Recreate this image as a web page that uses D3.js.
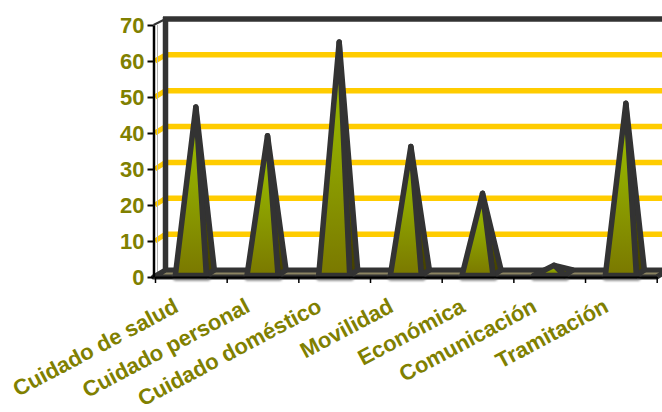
<!DOCTYPE html>
<html>
<head>
<meta charset="utf-8">
<script src="https://cdn.jsdelivr.net/npm/d3@7"></script>
<style>
  html, body { margin: 0; padding: 0; background: #ffffff; }
  svg { display: block; }
  text { font-family: "Liberation Sans", Arial, sans-serif; font-weight: bold; }
</style>
</head>
<body>
<svg id="chart" width="662" height="412"></svg>
<script>
// ---- data ----
const categories = ["Cuidado de salud", "Cuidado personal", "Cuidado doméstico", "Movilidad", "Económica", "Comunicación", "Tramitación"];
const values = [46, 38, 64, 35, 22, 2, 47];
const yTicks = [0, 10, 20, 30, 40, 50, 60, 70];
const gridValues = [10, 20, 30, 40, 50, 60];

const W = 662, H = 412;
const svg = d3.select("#chart");

// ---- scales ----
const x = d3.scaleBand().domain(categories).range([155, 656.7]).paddingInner(0).paddingOuter(0);
const xEdge = d3.scaleLinear().domain([0, categories.length]).range([155, 656.7]);
const yFront = d3.scaleLinear().domain([0, 70]).range([277, 25]);
const yBack = d3.scaleLinear().domain([0, 70]).range([270, 19]);
const yMid = d3.scaleLinear().domain([0, 70]).range([272.5, 20.5]);
const backX = 165.5;

const defs = svg.append("defs");
const gf = defs.append("linearGradient").attr("id", "frontGrad").attr("x1", 0).attr("y1", 0).attr("x2", 0).attr("y2", 1);
gf.append("stop").attr("offset", "0%").attr("stop-color", "#a0c400");
gf.append("stop").attr("offset", "45%").attr("stop-color", "#8fa600");
gf.append("stop").attr("offset", "100%").attr("stop-color", "#7a7800");
const gs = defs.append("linearGradient").attr("id", "sideGrad").attr("x1", 0).attr("y1", 0).attr("x2", 0).attr("y2", 1);
gs.append("stop").attr("offset", "0%").attr("stop-color", "#5a6a00");
gs.append("stop").attr("offset", "100%").attr("stop-color", "#454000");
const blur = defs.append("filter").attr("id", "soft").attr("x", "-20%").attr("y", "-50%").attr("width", "140%").attr("height", "200%");
blur.append("feGaussianBlur").attr("stdDeviation", 1);

// ---- walls / gridlines ----
const grid = svg.append("g");
grid.selectAll("line.back").data(gridValues).join("line")
  .attr("x1", backX).attr("x2", W + 10)
  .attr("y1", d => yBack(d)).attr("y2", d => yBack(d))
  .attr("stroke", "#ffcc00").attr("stroke-width", 5.5);
grid.selectAll("line.side").data(gridValues).join("line")
  .attr("x1", 155).attr("x2", backX)
  .attr("y1", d => yFront(d)).attr("y2", d => yBack(d))
  .attr("stroke", "#ffcc00").attr("stroke-width", 5);

// thin side wall edge
svg.append("line").attr("x1", 157.5).attr("x2", 157.5)
  .attr("y1", yFront(70)).attr("y2", yFront(0))
  .attr("stroke", "#b0b0b0").attr("stroke-width", 1);

// back-left post and top edge
svg.append("line").attr("x1", backX).attr("x2", backX)
  .attr("y1", yBack(70) - 2).attr("y2", yBack(0))
  .attr("stroke", "#333333").attr("stroke-width", 5.5);
svg.append("line").attr("x1", backX - 2.5).attr("x2", W + 10)
  .attr("y1", yBack(70)).attr("y2", yBack(70))
  .attr("stroke", "#333333").attr("stroke-width", 5.5);
svg.append("line").attr("x1", 153.5).attr("x2", backX)
  .attr("y1", yFront(70)).attr("y2", yBack(70))
  .attr("stroke", "#333333").attr("stroke-width", 2);

// floor
const floorPts = [[153.5, yFront(0)], [656.7, yFront(0)], [656.7 + 11.5, yBack(0)], [backX, yBack(0)]];
svg.append("path").attr("d", d3.line()(floorPts) + "Z")
  .attr("fill", "#8c8462").attr("stroke", "#333333").attr("stroke-width", 5).attr("stroke-linejoin", "round");

// shadows under the pyramids
svg.append("g").selectAll("rect").data(categories).join("rect")
  .attr("x", d => x(d) + x.bandwidth() / 2 - 18)
  .attr("y", yFront(0) - 3)
  .attr("width", 38).attr("height", 7).attr("rx", 3.5)
  .attr("fill", "#7a7a7a").attr("opacity", 0.8).attr("filter", "url(#soft)");

// ---- pyramids ----
const pyr = svg.append("g");
const half = 15.5;
const baseY = yFront(0) - 1.5;
categories.forEach((c, i) => {
  const cx = x(c) + x.bandwidth() / 2;
  const v = values[i];
  const apex = [cx + 5, yMid(v)];
  const fl = [cx - half, baseY];
  const fr = [cx + half, baseY];
  const br = [cx + half + 8, baseY - 5.5];
  const g = pyr.append("g");
  g.append("path").attr("d", d3.line()([fr, br, apex]) + "Z")
    .attr("fill", "url(#sideGrad)").attr("stroke", "#333333").attr("stroke-width", 5.5).attr("stroke-linejoin", "round");
  g.append("path").attr("d", d3.line()([fl, fr, apex]) + "Z")
    .attr("fill", "url(#frontGrad)").attr("stroke", "#333333").attr("stroke-width", 5.5).attr("stroke-linejoin", "round");
});

// ---- axes ----
const xAxis = svg.append("g").attr("transform", `translate(0,${yFront(0)})`)
  .call(d3.axisBottom(xEdge).tickValues(d3.range(categories.length + 1)).tickFormat("").tickSizeInner(6).tickSizeOuter(0));
xAxis.select(".domain").attr("stroke", "#000").attr("stroke-width", 2);
xAxis.selectAll(".tick line").attr("stroke", "#000").attr("stroke-width", 1.5);

const yAxis = svg.append("g").attr("transform", "translate(153.5,0)")
  .call(d3.axisLeft(yFront).tickValues(yTicks).tickSizeInner(6).tickSizeOuter(0).tickPadding(3));
yAxis.select(".domain").attr("stroke", "#000").attr("stroke-width", 2.5);
yAxis.selectAll(".tick line").attr("stroke", "#000").attr("stroke-width", 2);
yAxis.selectAll(".tick text")
  .attr("fill", "#808000").attr("font-size", 22).attr("font-weight", "bold")
  .attr("font-family", "'Liberation Sans', Arial, sans-serif")
  .attr("x", -9).attr("dy", "0.36em");

// ---- category labels ----
svg.append("g").selectAll("text").data(categories).join("text")
  .attr("transform", d => `translate(${x(d) + x.bandwidth() / 2 - 11},311) rotate(-28)`)
  .attr("text-anchor", "end")
  .attr("fill", "#808000")
  .attr("font-size", 22)
  .text(d => d);
</script>
</body>
</html>
